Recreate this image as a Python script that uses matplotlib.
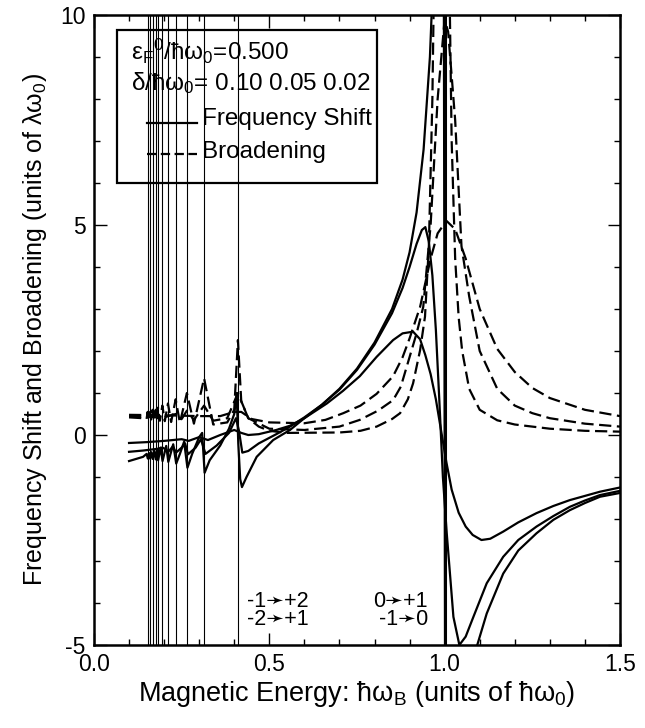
import numpy as np
import matplotlib
matplotlib.use("Agg")
import matplotlib.pyplot as plt
from matplotlib.patches import Rectangle

plt.rcParams['font.family'] = ['Liberation Sans', 'DejaVu Sans']
plt.rcParams['mathtext.fontset'] = 'custom'
plt.rcParams['mathtext.rm'] = 'Liberation Sans'
plt.rcParams['mathtext.it'] = 'Liberation Sans'
plt.rcParams['mathtext.default'] = 'regular'
plt.rcParams['axes.unicode_minus'] = False

# resonance positions (vertical lines), hbar w_B
res_lines = [0.153, 0.160, 0.167, 0.176, 0.1825, 0.195, 0.211, 0.233, 0.265, 0.314, 0.4105]

# frequency shift, delta = 0.02
s02_x = [0.100, 0.120, 0.140, 0.150, 0.1535, 0.157, 0.160, 0.164, 0.1675, 0.172, 0.1762, 0.180, 0.183,
         0.190, 0.1955, 0.206, 0.212, 0.226, 0.2345, 0.245, 0.257, 0.2665, 0.280, 0.300, 0.3085, 0.3155,
         0.330, 0.360, 0.385, 0.400, 0.407, 0.4115, 0.417, 0.422, 0.435, 0.464, 0.511, 0.559, 0.600,
         0.650, 0.700, 0.750, 0.800, 0.850, 0.880, 0.900, 0.920, 0.940, 0.958, 0.970, 0.990, 0.997,
         1.003, 1.060, 1.093, 1.120, 1.167, 1.210, 1.262, 1.310, 1.357, 1.400, 1.443, 1.500]
s02_y = [-0.62, -0.57, -0.52, -0.45, -0.56, -0.43, -0.56, -0.41, -0.57, -0.38, -0.58, -0.35, -0.60,
         -0.30, -0.62, -0.26, -0.64, -0.22, -0.68, -0.45, -0.16, -0.78, -0.45, -0.05, 0.05, -0.90,
         -0.60, -0.25, 0.15, 0.50, 1.00, -0.20, -1.05, -1.24, -1.00, -0.52, -0.12, 0.12, 0.40,
         0.72, 1.10, 1.58, 2.20, 3.00, 3.70, 4.35, 5.30, 6.80, 9.00, 11.5, 16.0, 14.0,
         -14.0, -8.0, -5.00, -4.25, -3.30, -2.75, -2.34, -2.02, -1.79, -1.62, -1.47, -1.38]

# frequency shift, delta = 0.05
s05_x = [0.100, 0.140, 0.160, 0.180, 0.195, 0.205, 0.212, 0.225, 0.234, 0.250, 0.260, 0.268, 0.290,
         0.305, 0.318, 0.350, 0.385, 0.405, 0.4135, 0.423, 0.440, 0.470, 0.520, 0.559, 0.600, 0.650,
         0.700, 0.750, 0.800, 0.850, 0.880, 0.900, 0.920, 0.935, 0.945, 0.955, 0.965, 0.975, 0.985,
         0.995, 1.006, 1.025, 1.042, 1.060, 1.082, 1.120, 1.167, 1.210, 1.262, 1.310, 1.357, 1.400,
         1.443, 1.500]
s05_y = [-0.40, -0.37, -0.35, -0.33, -0.30, -0.34, -0.40, -0.27, -0.42, -0.30, -0.20, -0.46, -0.30,
         -0.10, -0.45, -0.25, 0.05, 0.40, 0.10, -0.42, -0.38, -0.20, 0.02, 0.20, 0.42, 0.72,
         1.08, 1.55, 2.15, 2.90, 3.50, 4.00, 4.55, 4.88, 4.95, 4.60, 3.80, 2.50, 0.80,
         -1.00, -2.34, -4.33, -5.00, -4.80, -4.33, -3.53, -2.90, -2.50, -2.18, -1.93, -1.71, -1.56,
         -1.43, -1.33]

# frequency shift, delta = 0.10
s10_x = [0.100, 0.150, 0.200, 0.250, 0.270, 0.300, 0.325, 0.360, 0.400, 0.420, 0.440, 0.470, 0.520,
         0.559, 0.600, 0.664, 0.710, 0.758, 0.806, 0.853, 0.880, 0.910, 0.930, 0.945, 0.960, 0.975,
         0.990, 1.005, 1.020, 1.040, 1.060, 1.080, 1.105, 1.130, 1.167, 1.210, 1.262, 1.310, 1.357,
         1.400, 1.443, 1.500]
s10_y = [-0.19, -0.17, -0.14, -0.10, -0.14, -0.05, -0.12, 0.00, 0.12, 0.05, 0.00, 0.02, 0.12,
         0.22, 0.40, 0.75, 1.05, 1.40, 1.86, 2.26, 2.42, 2.46, 2.28, 1.90, 1.45, 0.85,
         0.10, -0.65, -1.30, -1.85, -2.18, -2.38, -2.50, -2.47, -2.30, -2.08, -1.86, -1.69, -1.55,
         -1.45, -1.35, -1.25]

# broadening, delta = 0.02
b02_x = [0.100, 0.140, 0.150, 0.153, 0.156, 0.160, 0.163, 0.167, 0.171, 0.176, 0.179, 0.1825, 0.188,
         0.195, 0.202, 0.211, 0.220, 0.233, 0.245, 0.265, 0.285, 0.314, 0.340, 0.380, 0.400, 0.4105,
         0.420, 0.440, 0.470, 0.500, 0.550, 0.700, 0.760, 0.806, 0.850, 0.873, 0.895, 0.910, 0.930,
         0.944, 0.955, 0.965, 0.975, 0.990, 1.005, 1.015, 1.020, 1.030, 1.040, 1.050, 1.070, 1.100,
         1.150, 1.200, 1.300, 1.400, 1.500]
b02_y = [0.42, 0.40, 0.38, 0.55, 0.38, 0.55, 0.37, 0.60, 0.36, 0.60, 0.35, 0.65, 0.34,
         0.70, 0.33, 0.75, 0.31, 0.85, 0.29, 1.00, 0.27, 1.35, 0.25, 0.30, 0.60, 2.26,
         0.80, 0.40, 0.20, 0.10, 0.05, 0.06, 0.10, 0.20, 0.38, 0.52, 0.85, 1.23, 2.02,
         2.82, 4.50, 8.00, 14.0, 25.0, 18.0, 10.0, 7.00, 4.20, 2.80, 2.00, 1.10, 0.60,
         0.35, 0.25, 0.15, 0.10, 0.08]

# broadening, delta = 0.05
b05_x = [0.100, 0.150, 0.200, 0.233, 0.250, 0.265, 0.285, 0.314, 0.340, 0.380, 0.4105, 0.440, 0.500,
         0.600, 0.700, 0.758, 0.810, 0.853, 0.875, 0.892, 0.920, 0.939, 0.960, 0.980, 1.000, 1.010,
         1.030, 1.048, 1.070, 1.100, 1.150, 1.200, 1.250, 1.300, 1.400, 1.500]
b05_y = [0.45, 0.43, 0.42, 0.50, 0.38, 0.58, 0.36, 0.70, 0.34, 0.40, 1.00, 0.40, 0.15,
         0.12, 0.20, 0.36, 0.58, 0.83, 1.15, 1.63, 2.42, 3.05, 5.00, 8.00, 9.90, 9.60,
         7.50, 4.50, 3.30, 2.00, 1.10, 0.70, 0.52, 0.40, 0.27, 0.20]

# broadening, delta = 0.10
b10_x = [0.100, 0.200, 0.300, 0.360, 0.400, 0.420, 0.450, 0.500, 0.600, 0.660, 0.711, 0.760, 0.806,
         0.853, 0.880, 0.900, 0.930, 0.960, 0.980, 1.005, 1.030, 1.060, 1.100, 1.150, 1.200, 1.250,
         1.300, 1.400, 1.500]
b10_y = [0.48, 0.47, 0.45, 0.45, 0.55, 0.55, 0.38, 0.30, 0.28, 0.36, 0.52, 0.70, 0.98,
         1.40, 1.85, 2.30, 3.05, 4.20, 4.80, 5.10, 4.90, 4.20, 3.00, 2.05, 1.50, 1.12,
         0.88, 0.60, 0.45]

trans_left = '-1\u279b+2\n-2\u279b+1'
trans_right = '0\u279b+1\n-1\u279b0'

fig = plt.figure(figsize=(6.45, 7.28), dpi=100)
ax = fig.add_axes([0.1457, 0.114, 0.8155, 0.8654])

for xr in res_lines:
    ax.axvline(xr, color='black', lw=0.8)
ax.axvline(1.0, color='black', lw=2.2)

for xs, ys in [(s02_x, s02_y), (s05_x, s05_y), (s10_x, s10_y)]:
    ax.plot(xs, ys, color='black', lw=1.6, solid_joinstyle='round')
for xs, ys in [(b02_x, b02_y), (b05_x, b05_y), (b10_x, b10_y)]:
    ax.plot(xs, ys, color='black', lw=1.6, ls=(0, (5.5, 2.5)))

ax.set_xlim(0, 1.5)
ax.set_ylim(-5, 10)
ax.set_xticks([0.0, 0.5, 1.0, 1.5])
ax.set_xticklabels(['0.0', '0.5', '1.0', '1.5'])
ax.set_yticks([-5, 0, 5, 10])
ax.set_xticks(np.arange(0, 1.51, 0.1), minor=True)
ax.set_yticks(np.arange(-5, 10.1, 1), minor=True)
ax.tick_params(which='both', direction='in', top=True, right=True, labelsize=16.5, width=1.0)
ax.tick_params(which='major', length=9, pad=6)
ax.tick_params(which='minor', length=4.5)
for sp in ax.spines.values():
    sp.set_linewidth(1.8)

ax.set_xlabel('Magnetic Energy: ħω$_B$ (units of ħω$_0$)', fontsize=19.5, labelpad=2)
ax.set_ylabel('Frequency Shift and Broadening (units of λω$_0$)', fontsize=18, labelpad=8)

# legend box drawn by hand
ax.add_patch(Rectangle((0.044, 0.733), 0.494, 0.243, transform=ax.transAxes,
                       fill=False, lw=1.6, zorder=5))
ax.text(0.070, 0.929, 'ε$_F{}^0$/ħω$_0$=0.500', transform=ax.transAxes, fontsize=17.5,
        va='baseline')
ax.text(0.070, 0.881, 'δ/ħω$_0$= 0.10 0.05 0.02', transform=ax.transAxes, fontsize=17.5,
        va='baseline')
ax.plot([0.101, 0.196], [0.828, 0.828], transform=ax.transAxes, color='black', lw=1.6)
ax.text(0.205, 0.825, 'Frequency Shift', transform=ax.transAxes, fontsize=17.5, va='baseline')
ax.plot([0.101, 0.196], [0.779, 0.779], transform=ax.transAxes, color='black', lw=1.6,
        ls=(0, (4.2, 2)))
ax.text(0.205, 0.773, 'Broadening', transform=ax.transAxes, fontsize=17.5, va='baseline')

ax.text(0.436, -4.18, trans_left, fontsize=15.5, va='center', ha='left', linespacing=0.82)
ax.text(0.952, -4.18, trans_right, fontsize=15.5, va='center', ha='right',
        multialignment='right', linespacing=0.82)

fig.savefig('out.png', dpi=100)
